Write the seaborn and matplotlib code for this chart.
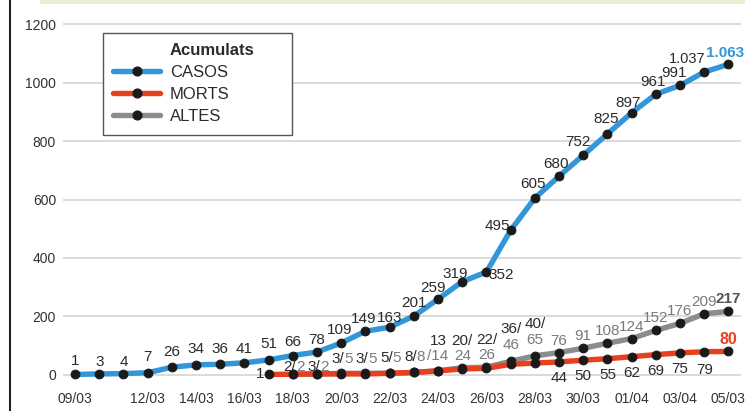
import numpy as np
import pandas as pd
import seaborn as sns
import matplotlib.pyplot as plt
from matplotlib.lines import Line2D
from matplotlib.patches import Rectangle

# dades acumulades (09/03 - 05/04)
dates = pd.date_range("2020-03-09", "2020-04-05").strftime("%d/%m").tolist()
casos = [1, 3, 4, 7, 26, 34, 36, 41, 51, 66, 78, 109, 149, 163, 201, 259, 319,
         352, 495, 605, 680, 752, 825, 897, 961, 991, 1037, 1063]
morts = [1, 2, 3, 3, 3, 5, 8, 13, 20, 22, 36, 40, 44, 50, 55, 62, 69, 75, 79, 80]   # des del 17/03
altes = [2, 2, 5, 5, 5, 8, 14, 24, 26, 46, 65, 76, 91, 108, 124, 152, 176, 209, 217]  # des del 18/03
tick_dates = ["09/03", "12/03", "14/03", "16/03", "18/03", "20/03", "22/03", "24/03",
              "26/03", "28/03", "30/03", "01/04", "03/04", "05/04"]
tick_labels = tick_dates[:-1] + ["05/03"]
y_ticks = [0, 200, 400, 600, 800, 1000, 1200]

BLUE = "#3396d8"
RED = "#e8401f"
GREY = "#8c8c8c"
DOT = "#1a1a1a"
DARK = "#2b2b2b"
LABEL_GREY = "#7a7a7a"

df_c = pd.DataFrame({"x": np.arange(len(casos)), "v": casos})
df_m = pd.DataFrame({"x": np.arange(len(dates) - len(morts), len(dates)), "v": morts})
df_a = pd.DataFrame({"x": np.arange(len(dates) - len(altes), len(dates)), "v": altes})

sns.set_style("white")
plt.rcParams["font.family"] = ["Liberation Sans", "DejaVu Sans"]

fig = plt.figure(figsize=(7.45, 4.11), dpi=100)
ax = fig.add_axes([63 / 745, 1 - 385 / 411, (741 - 63) / 745, (385 - 20) / 411])

line_kw = dict(lw=3.9, marker="o", markersize=6.3, markerfacecolor=DOT,
               markeredgecolor=DOT, solid_capstyle="round", solid_joinstyle="round")
sns.lineplot(data=df_a, x="x", y="v", color=GREY, ax=ax, **line_kw)
sns.lineplot(data=df_m, x="x", y="v", color=RED, ax=ax, **line_kw)
sns.lineplot(data=df_c, x="x", y="v", color=BLUE, ax=ax, **line_kw)

ax.set_xlim(-0.5, 27.52)
ax.set_ylim(-35, 1215)
ax.set_yticks(y_ticks)
ax.set_yticklabels([str(t) for t in y_ticks])
ax.set_xticks([dates.index(d) for d in tick_dates])
ax.set_xticklabels(tick_labels)
ax.tick_params(axis="both", length=0, colors="#333333")
ax.tick_params(axis="y", pad=5, labelsize=10)
ax.tick_params(axis="x", pad=5, labelsize=10)
ax.set_xlabel("")
ax.set_ylabel("")
ax.grid(axis="y", color="#d4d4d4", lw=1.2)
ax.grid(axis="x", visible=False)
sns.despine(ax=ax, left=True, bottom=True)


def fmt(v):
    return f"{v:,}".replace(",", ".")


def lab(x, y, s, dx, dy, color=DARK, ha="center", size=11, **kw):
    ax.annotate(s, (x, y), xytext=(dx, dy), textcoords="offset pixels",
                ha=ha, va="center", color=color, fontsize=size, **kw)


# etiquetes casos
casos_off = [(0, 13), (0, 12), (0, 12), (0, 16), (0, 15), (0, 16), (0, 15), (0, 14),
             (0, 16), (0, 14), (0, 12), (-2, 13), (-2, 12), (0, 9), (0, 13), (-5, 11),
             (-7, 8), (15, -3), (-13, 4), (-2, 14), (-3, 12), (-5, 13), (-1, 15),
             (-4, 10), (-3, 12), (-6, 12), (-17, 13), (-3, 11)]
for i, (v, (dx, dy)) in enumerate(zip(casos, casos_off)):
    if i == len(casos) - 1:
        lab(i, v, fmt(v), dx, dy, color=BLUE, fontweight="bold", size=11)
    elif i == len(casos) - 2:
        lab(i, v, fmt(v), dx, dy, size=10.5)
    else:
        lab(i, v, fmt(v), dx, dy)

# etiquetes morts / altes
m0 = df_m["x"].iloc[0]
lab(m0, morts[0], "1", -9, 0)
for x, m, a in zip(df_a["x"], morts[1:], altes):
    if x <= 14:
        dy = 7 if x <= 10 else 15
        sp = 3 if m < 10 else 6
        lab(x, m, f"{m}/", sp, dy, ha="right")
        lab(x, m, f"{a}", sp, dy, color=LABEL_GREY, ha="left")
    elif x == 15:
        lab(x, m, f"{m}", 0, 30)
        lab(x, m, f"/{a}", 0, 15, color=LABEL_GREY)
    elif x <= 17:
        lab(x, m, f"{m}/", 0, 28)
        lab(x, m, f"{a}", 0, 13, color=LABEL_GREY)
    elif x <= 19:
        lab(x, a, f"{m}/", 0, 32)
        lab(x, a, f"{a}", 0, 16, color=LABEL_GREY)
    elif x < 27:
        lab(x, a, f"{a}", 0, 12, color=LABEL_GREY)
        lab(x, m, f"{m}", 0, -16 if x < 26 else -18)
    else:
        lab(x, a, f"{a}", 0, 12, color="#555555", fontweight="bold")
        lab(x, m, f"{m}", 0, 12, color=RED, fontweight="bold", size=11.5)

# llegenda
handles = [Line2D([], [], lw=0, marker=None),
           Line2D([], [], color=BLUE, **line_kw),
           Line2D([], [], color=RED, **line_kw),
           Line2D([], [], color=GREY, **line_kw)]
leg = ax.legend(handles, ["Acumulats", "CASOS", "MORTS", "ALTES"],
                loc="upper left", mode="expand",
                bbox_to_anchor=(103 / 745, 1 - 132 / 411, 189 / 745, 99 / 411),
                bbox_transform=fig.transFigure, borderaxespad=0,
                fontsize=12, labelspacing=0.42, handlelength=2.8, handletextpad=0.6,
                borderpad=0.62, fancybox=False, framealpha=1, edgecolor="#555555")
leg.get_frame().set_linewidth(1.0)
leg.get_texts()[0].set_fontweight("bold")
for t in leg.get_texts():
    t.set_color(DARK)

# marc de la pagina
fig.add_artist(Rectangle((40 / 745, 1 - 4 / 411), 1, 4 / 411, transform=fig.transFigure,
                         color="#eeecd5", lw=0))
fig.add_artist(Line2D([10 / 745, 10 / 745], [0, 1], transform=fig.transFigure,
                      color="#222222", lw=1.5))

fig.savefig("out.png", dpi=100)
